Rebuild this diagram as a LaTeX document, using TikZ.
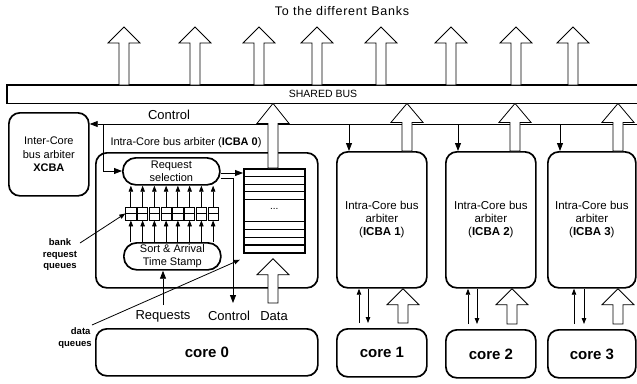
\documentclass[tikz,border=0pt]{standalone}
\usepackage{fontspec}
\setmainfont{Liberation Sans}
\newfontfamily\widefont[LetterSpace=6]{Liberation Sans}
\usetikzlibrary{arrows.meta,calc}
\newcommand\blockarrow[3]{%
  \path let \p1=#1, \p2=#2 in [barr]
    (\x1-5pt,\y1) -- (\x1-5pt,\y2-#3) -- (\x1-16pt,\y2-#3) -- (\x2,\y2)
    -- (\x1+16pt,\y2-#3) -- (\x1+5pt,\y2-#3) -- (\x1+5pt,\y1) -- cycle;}
\begin{document}
\begin{tikzpicture}[x=1pt,y=-1pt,
  box/.style={draw, line width=1.7pt, rounded corners=11pt, inner sep=0pt, anchor=north west},
  pill/.style={draw, line width=1.7pt, rounded corners=13pt, inner sep=0pt, anchor=north west, align=center, font=\fontsize{11}{13}\selectfont},
  arr/.style={line width=0.8pt, -{Triangle[length=8pt,width=6pt]}},
  sarr/.style={line width=0.8pt, -{Triangle[length=6pt,width=4.5pt]}},
  barr/.style={draw, line width=0.8pt, fill=white},
  txt/.style={font=\fontsize{11}{13}\selectfont, align=center, inner sep=0pt},
  icbatxt/.style={align=center, font=\fontsize{11.5}{13}\selectfont},
  big/.style={font=\fontsize{13}{15}\selectfont, inner sep=0pt},
  corelbl/.style={font=\fontsize{15}{17}\selectfont\bfseries},
  side/.style={font=\fontsize{9.5}{11.5}\selectfont\bfseries, align=center, inner sep=0pt},
]
\useasboundingbox (0,0) rectangle (637,383);

% title and bus
\node[font=\fontsize{12.5}{14}\widefont, inner sep=0pt] (title) at (342,11) {To the different Banks};
\node[inner sep=0pt, minimum width=630, minimum height=18, anchor=north west] (bus) at (7,85) {};
\draw[line width=1.7pt] (bus.north east) -- (bus.north west) -- (bus.south west) -- (bus.south east);
\node[font=\fontsize{10.5}{12}\selectfont, inner sep=0pt] (buslbl) at (323,94) {SHARED BUS};

% boxes
\node[box, minimum width=80, minimum height=83, align=center, font=\fontsize{11}{13.5}\selectfont] (xcba) at (8,112) {Inter-Core\\bus arbiter\\\textbf{XCBA}};
\node[box, minimum width=222, minimum height=135] (icba0) at (95,152) {};
\node[txt] (icba0lbl) at (186,143) {Intra-Core bus arbiter (\textbf{ICBA 0})};
\node[pill, minimum width=97, minimum height=27] (reqsel) at (122,157) {Request\\selection};
\node[pill, minimum width=97, minimum height=27] (sort) at (123,242) {Sort \& Arrival\\Time Stamp};

% data queue stack
\node[draw, line width=1.7pt, inner sep=0pt, minimum width=61, minimum height=84, anchor=north west] (stack) at (243,168) {};
\foreach \d in {8.5,16.3,23.7,31.3,53.7,61.3,69.3,77}
  \draw[line width=1.5pt] ($(stack.north west)+(0,\d)$) -- ($(stack.north east)+(0,\d)$);
\node[inner sep=0pt, font=\fontsize{10}{12}\selectfont] (dots) at ($(stack.north)+(0,41)$) {...};

% bank request queues
\foreach \i in {1,...,8} {
  \node[draw, line width=0.8pt, inner sep=0pt, minimum width=10.3, minimum height=13] (q\i) at ({125+11.75*(\i-0.5)},213.5) {};
  \draw[line width=0.8pt] (q\i.west) -- (q\i.east);
  \draw[sarr] (q\i |- sort.north) -- (q\i.south);
  \draw[sarr] (q\i.north) -- (q\i |- reqsel.south);
}

% other arbiters and cores
\node[box, minimum width=90, minimum height=136, icbatxt] (icba1) at (336,151) {Intra-Core bus\\arbiter\\(\textbf{ICBA 1})};
\node[box, minimum width=90, minimum height=136, icbatxt] (icba2) at (445,151) {Intra-Core bus\\arbiter\\(\textbf{ICBA 2})};
\node[box, minimum width=88, minimum height=136, icbatxt] (icba3) at (547,151) {Intra-Core bus\\arbiter\\(\textbf{ICBA 3})};
\node[box, minimum width=222, minimum height=47, corelbl] (core0) at (95,328) {core 0};
\node[box, minimum width=90, minimum height=48, corelbl] (core1) at (336,328) {core 1};
\node[box, minimum width=90, minimum height=48, corelbl] (core2) at (445,329) {core 2};
\node[box, minimum width=88, minimum height=48, corelbl] (core3) at (547,329) {core 3};

% control lines
\coordinate (ctlend) at (637,124);
\coordinate (ctlbranch) at (103,124);
\draw[arr] (ctlend) -- (ctlend -| xcba.east);
\draw[arr] (ctlbranch) -- (103,171) -- (reqsel.west |- 0,171);
\foreach \nm/\xx in {icba1/349,icba2/458,icba3/560}
  \draw[arr] (\xx,124) -- (\xx,0 |- \nm.north);
\node[big] (ctltop) at (169,115) {Control};

% inside ICBA0
\draw[arr] (reqsel.east |- 0,173) -- (stack.west |- 0,173);
\coordinate (ctlturn) at (233,178);
\draw[arr] (reqsel.east |- ctlturn) -- (ctlturn) -- (233,303);
\coordinate (reqfrom) at (163,305);
\draw[arr] (reqfrom) -- (reqfrom |- sort.south);
\node[big] (reqlbl) at (163,316) {Requests};
\node[big] (ctllbl) at (229,316) {Control};
\node[big] (datalbl) at (274,316) {Data};

% side labels
\node[side] (banklbl) at (60,255) {bank\\request\\queues};
\node[side] (dqlbl) at (75,338) {\hspace*{1.2em}data\\queues};
\coordinate (bankfrom) at (80,243);
\draw[sarr] (bankfrom) -- (q1.west);
\coordinate (dqfrom) at (92,325);
\draw[sarr] (dqfrom) -- ($(stack.south west)+(-3,6)$);

% thin arrows between ICBAs and cores
\foreach \cn/\u/\dd in {1/359/368,2/468/477,3/574/584} {
  \draw[sarr] ($(\u,0 |- core\cn.north)+(0,-5)$) -- (\u,0 |- icba\cn.south);
  \draw[sarr] (\dd,0 |- icba\cn.south) -- ($(\dd,0 |- core\cn.north)+(0,-5)$);
}

% block arrows
\foreach \xx [count=\kk] in {124,195,259,317,381,451,516,573} {
  \coordinate (bank\kk) at (\xx,27);
  \blockarrow{(bank\kk |- bus.north)}{(bank\kk)}{16pt}
}
\blockarrow{(273,0 |- stack.north)}{(273,0 |- bus.south)}{20pt}
\blockarrow{(273,303)}{($(273,0 |- stack.south)+(0,5)$)}{16pt}
\foreach \nm/\xx in {icba1/407,icba2/515,icba3/618} {
  \blockarrow{(\xx,0 |- \nm.north)}{(\xx,0 |- bus.south)}{19pt}
}
\foreach \cn/\xx in {1/403,2/512,3/618} {
  \blockarrow{($(\xx,0 |- core\cn.north)+(0,-5)$)}{(\xx,0 |- icba\cn.south)}{16pt}
}
\end{tikzpicture}
\end{document}
